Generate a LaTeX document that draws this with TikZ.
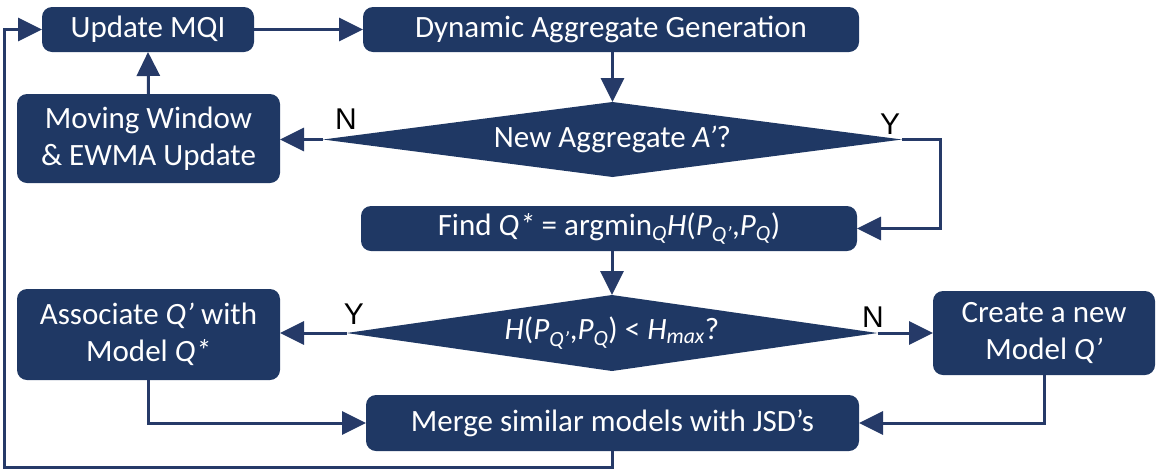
\documentclass[tikz,border=0pt]{standalone}
\usepackage{fontspec}
\setmainfont{Carlito}
\newfontfamily\labfont{Liberation Sans}
\usetikzlibrary{arrows.meta,shapes.geometric}
\definecolor{navy}{RGB}{31,56,100}
\definecolor{lnavy}{RGB}{38,58,104}
\begin{document}
\begin{tikzpicture}[x=1pt,y=-1pt,
  box/.style={draw=none,fill=navy,rounded corners=10pt,text=white,align=center,
    font=\fontsize{31}{37}\selectfont,inner sep=0pt,outer sep=0pt},
  dia/.style={shape=diamond,draw=none,fill=navy,text=white,align=center,
    font=\fontsize{31}{37}\selectfont,inner sep=0pt,outer sep=0pt},
  conn/.style={draw=lnavy,line width=3pt,-{Triangle[length=24pt,width=23pt]}},
  lab/.style={font=\labfont\fontsize{30}{30}\selectfont,text=black,inner sep=0pt}
]
\useasboundingbox (0,0) rectangle (1162,472);
\node[box,minimum width=212pt,minimum height=45pt] (upd) at (148,29.5) {Update MQI};
\node[box,minimum width=496pt,minimum height=45pt] (dag) at (611,29.5) {Dynamic Aggregate Generation};
\node[box,minimum width=263pt,minimum height=89pt] (mw) at (148.5,138.5) {Moving Window\\\& EWMA Update};
\node[dia,shape aspect=7.7,minimum width=579pt,minimum height=75pt] (d1) at (612.5,139.5) {New Aggregate \textit{A’}?};
\node[box,minimum width=496pt,minimum height=45pt] (find) at (609,228.5)
  {Find \textit{Q*} = argmin\textsubscript{\textit{Q}}\textit{H}(\textit{P}\textsubscript{\textit{Q’}},\textit{P}\textsubscript{\textit{Q}})};
\node[dia,shape aspect=7,minimum width=531pt,minimum height=76pt] (d2) at (612,333)
  {\textit{H}(\textit{P}\textsubscript{\textit{Q’}},\textit{P}\textsubscript{\textit{Q}}) < \textit{H}\textsubscript{\textit{max}}?};
\node[box,minimum width=263pt,minimum height=91pt] (assoc) at (148.5,334.5) {Associate \textit{Q’} with\\Model \textit{Q*}};
\node[box,minimum width=222pt,minimum height=84pt] (create) at (1044,333) {Create a new\\Model \textit{Q’}};
\node[box,minimum width=493pt,minimum height=56pt] (merge) at (612.5,423) {Merge similar models with JSD’s};
\coordinate (lft) at (4,467);
\coordinate (yr) at (940,139.5);

\draw[conn] (upd.east) -- (dag.west);
\draw[conn] (mw.north) -- (upd.south);
\draw[conn] (d1.north |- dag.south) -- (d1.north);
\draw[conn] (d1.west) -- (d1.west -| mw.east);
\draw[conn] (d1.east) -- (yr) |- (find.east);
\draw[conn] (d2.north |- find.south) -- (d2.north);
\draw[conn] (d2.west) -- (d2.west -| assoc.east);
\draw[conn] (d2.east) -- (d2.east -| create.west);
\draw[conn] (assoc.south) |- (merge.west);
\draw[conn] (create.south) |- (merge.east);
\draw[conn] (merge.south) |- (lft) |- (upd.west);

\node[lab] (n1) at (346,119.5) {N};
\node[lab] (y1) at (890,124) {Y};
\node[lab] (y2) at (354,314) {Y};
\node[lab] (n2) at (873,317) {N};
\end{tikzpicture}
\end{document}
